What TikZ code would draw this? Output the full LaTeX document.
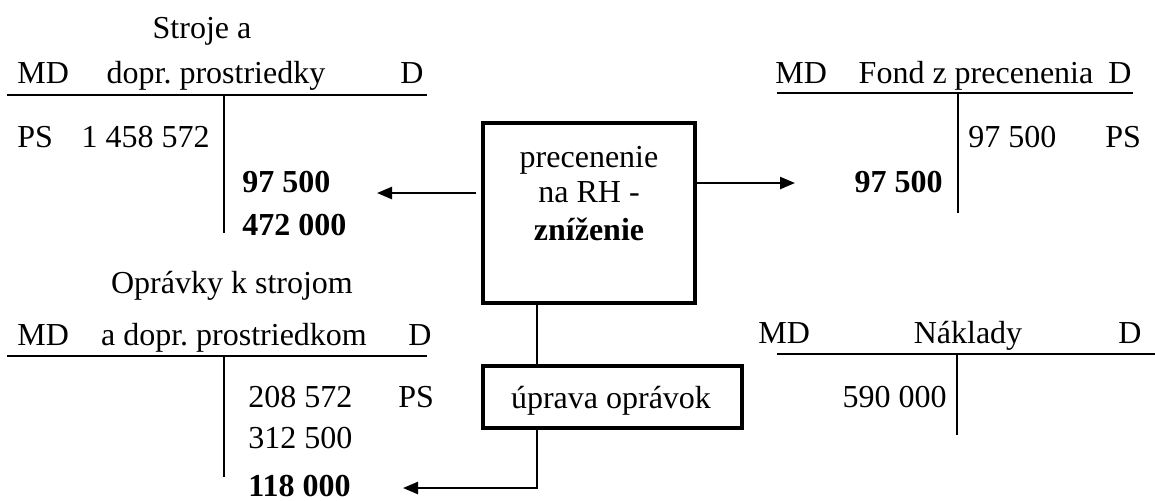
\documentclass[tikz,border=0pt]{standalone}
\usepackage{fontspec}
\setmainfont{Liberation Serif}
\usetikzlibrary{arrows.meta}
\frenchspacing
\begin{document}
\begin{tikzpicture}[x=0.5pt,y=-0.5pt,
  font=\fontsize{16pt}{18pt}\selectfont,
  txt/.style={inner sep=0pt, anchor=base},
  txtl/.style={inner sep=0pt, anchor=base west},
  txtr/.style={inner sep=0pt, anchor=base east},
  tline/.style={line width=1pt},
  boxstyle/.style={draw, line width=1.8pt, inner sep=0pt},
  link/.style={line width=1.2pt},
  arr/.style={link, -{Triangle[length=7.5pt,width=6pt]}}]
\useasboundingbox (0,0) rectangle (1155,500);

% --- account: Stroje a dopr. prostriedky ---
\node[txt]  (s-title) at (202,38) {Stroje a};
\node[txtl] (s-md)    at (17,83)  {MD};
\node[txt]  (s-name)  at (216,83) {dopr. prostriedky};
\node[txtl] (s-d)     at (400,83) {D};
\draw[tline] (7,95) -- (427,95);
\draw[tline] (224,95) -- (224,233);
\node[txtl] (s-ps)    at (17,147)  {PS};
\node[txtr] (s-ps-v)  at (210,147) {1 458 572};
\node[txtl] (s-c1)    at (242,192) {\bfseries 97 500};
\node[txtl] (s-c2)    at (242,235) {\bfseries 472 000};

% --- account: Fond z precenenia ---
\node[txtl] (f-md)    at (775,83)  {MD};
\node[txt]  (f-name)  at (976,83)  {Fond z precenenia};
\node[txtl] (f-d)     at (1108,83) {D};
\draw[tline] (777,93) -- (1133,93);
\draw[tline] (958,93) -- (958,213);
\node[txtl] (f-ps-v)  at (968,147)  {97 500};
\node[txtl] (f-ps)    at (1105,147) {PS};
\node[txtr] (f-d1)    at (943,192)  {\bfseries 97 500};

% --- account: Oprávky k strojom a dopr. prostriedkom ---
\node[txt]  (o-title) at (232,293) {Oprávky k strojom};
\node[txtl] (o-md)    at (17,345)  {MD};
\node[txt]  (o-name)  at (234,345) {a dopr. prostriedkom};
\node[txtl] (o-d)     at (408,345) {D};
\draw[tline] (7,356) -- (427,356);
\draw[tline] (224,356) -- (224,477);
\node[txtl] (o-ps-v)  at (248,407) {208 572};
\node[txtl] (o-ps)    at (398,407) {PS};
\node[txtl] (o-c1)    at (248,448) {312 500};
\node[txtl, text depth=0pt] (o-c2) at (248,496) {\bfseries 118 000};

% --- account: Náklady ---
\node[txtl] (n-md)    at (758,343)  {MD};
\node[txt]  (n-name)  at (968,343)  {Náklady};
\node[txtl] (n-d)     at (1118,343) {D};
\draw[tline] (777,354) -- (1155,354);
\draw[tline] (957,354) -- (957,435);
\node[txtr] (n-d1)    at (947,407)  {590 000};

% --- operation boxes ---
\node[boxstyle, minimum width=106pt, minimum height=90pt] (box1) at (589,213) {};
\node[txt] (b1-l1) at (589,167) {precenenie};
\node[txt] (b1-l2) at (589,202) {na RH -};
\node[txt] (b1-l3) at (589,240) {\bfseries zníženie};
\node[boxstyle, minimum width=129.5pt, minimum height=31pt] (box2) at (612.5,397) {};
\node[txt] (b2-l1) at (611,408) {úprava oprávok};

% --- connectors ---
\coordinate (cx) at (537,0);
\coordinate (lt) at (377,193);
\coordinate (rt) at (795,183);
\coordinate (bt) at (403,488);
\draw[link] (box1.south -| cx) -- (box2.north -| cx);
\draw[arr, shorten <=2.5pt] (box1.west |- lt) -- (lt);
\draw[arr] (box1.east |- rt) -- (rt);
\draw[arr] (box2.south -| cx) |- (bt);
\end{tikzpicture}
\end{document}
